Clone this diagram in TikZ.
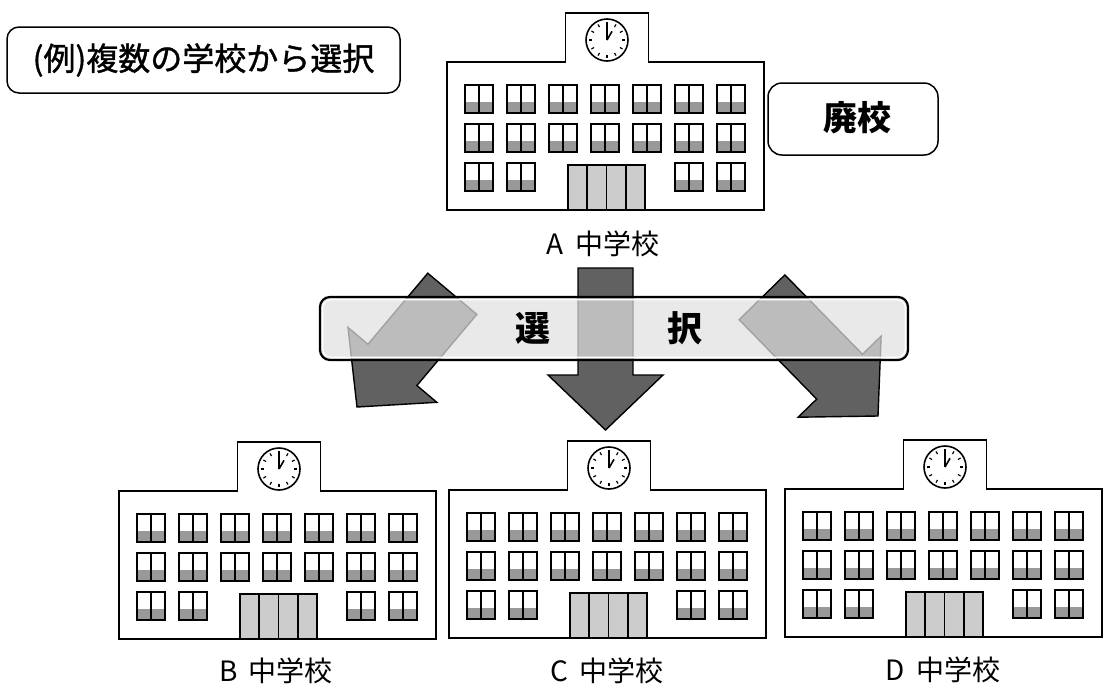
\documentclass[tikz,border=0pt]{standalone}
\usepackage{fontspec}
\newfontfamily\jp{Noto Sans CJK JP}
\newfontfamily\jpmedium{Noto Sans CJK JP}[FakeBold=1.2]
\begin{document}
\begin{tikzpicture}[x=1pt,y=-1pt,
  outline/.style={line width=1.8pt, line join=miter},
  winframe/.style={line width=1.6pt},
  blockarrow/.style={fill=black!62, draw=black, line width=1.4pt, line join=miter},
  tag/.style={draw=black, line width=1.5pt, rounded corners=12pt, fill=white, inner sep=0pt},
  caption/.style={font=\jp\fontsize{28}{28}\selectfont, inner sep=0pt},
  school/.pic={
    % body with clock tower
    \fill[white] (-158.5,0) -- (-158.5,-148) -- (-40,-148) -- (-40,-197) -- (43,-197) -- (43,-148) -- (158.5,-148) -- (158.5,0) -- cycle;
    % windows: three floors, ground floor leaves room for the entrance
    \foreach \r/\cols in {-125/{0,1,2,3,4,5,6}, -86/{0,1,2,3,4,5,6}, -47/{0,1,5,6}} {
      \foreach \c in \cols {
        \pgfmathsetmacro\xl{-140.5+42*\c}
        \fill[black!40] (\xl,\r+17) rectangle (\xl+28,\r+28);
        \draw[winframe] (\xl,\r) rectangle (\xl+28,\r+28);
        \draw[line width=2pt] (\xl+14,\r) -- (\xl+14,\r+28);
      }
    }
    % entrance
    \fill[black!20] (-37.5,-45) rectangle (39.5,0);
    \foreach \k in {1,2,3} \draw[line width=1.6pt] (-37.5+19.25*\k,-45) -- (-37.5+19.25*\k,0);
    \draw[line width=2pt] (-37.5,0) -- (-37.5,-45) -- (39.5,-45) -- (39.5,0);
    % outline
    \draw[outline] (-158.5,0) -- (-158.5,-148) -- (-40,-148) -- (-40,-197) -- (43,-197) -- (43,-148) -- (158.5,-148) -- (158.5,0) -- cycle;
    % clock
    \begin{scope}[shift={(1.5,-170)}]
      \draw[line width=1.6pt, fill=white] (0,0) circle[radius=21pt];
      \foreach \a in {0,30,...,330} \draw[line width=1.2pt] (\a:15pt) -- (\a:18pt);
      \draw[line width=1.6pt] (0,0) -- (90:16pt);
      \draw[line width=1.6pt] (0,0) -- (60:10pt);
    \end{scope}
  }
]
\useasboundingbox (0,0) rectangle (1104,697);

% caption box and closed-school tag
\node[tag, minimum width=393pt, minimum height=66pt, font=\jpmedium\fontsize{32}{32}\selectfont] (example) at (203.5,60) {(例)複数の学校から選択};
\node[tag, rounded corners=14pt, minimum width=170pt, minimum height=72pt] (closedbox) at (853,119) {};
\node[font=\jp\bfseries\fontsize{34}{34}\selectfont, inner sep=0pt] (closed) at (857,118) {廃校};

% schools
\pic at (605.5,210) {school};
\pic at (277.5,639) {school};
\pic at (607.5,638) {school};
\pic at (943.5,637) {school};

\node[caption] (labA) at (603,244) {A\hspace{0.4em}中学校};
\node[caption] (labB) at (276,671) {B\hspace{0.4em}中学校};
\node[caption] (labC) at (607,671) {C\hspace{0.4em}中学校};
\node[caption] (labD) at (943,670) {D\hspace{0.4em}中学校};

% block arrows
\draw[blockarrow] (357,407) -- (436.8,402.3) -- (416.9,385.5) -- (476.8,314.4) -- (427.8,273.2) -- (367.9,344.3) -- (348,327.5) -- cycle;
\draw[blockarrow] (605.5,430) -- (663,375) -- (633,375) -- (633,268) -- (578,268) -- (578,375) -- (548,375) -- cycle;
\draw[blockarrow] (878,416) -- (798.1,417.2) -- (816.7,399.1) -- (739.1,319.7) -- (784.9,274.9) -- (862.5,354.3) -- (881.1,336.2) -- cycle;

% translucent banner
\fill[gray!24, fill opacity=0.72, rounded corners=10pt] (320,297) rectangle (908,360);
\draw[white, line width=1.2pt, rounded corners=8pt] (322.8,299.8) rectangle (905.2,357.2);
\draw[black, line width=2.2pt, rounded corners=10pt] (320,297) rectangle (908,360);
\node[font=\jp\bfseries\fontsize{35}{35}\selectfont, inner sep=0pt] (selA) at (533,328) {選};
\node[font=\jp\bfseries\fontsize{35}{35}\selectfont, inner sep=0pt] (selB) at (685,328) {択};
\end{tikzpicture}
\end{document}
